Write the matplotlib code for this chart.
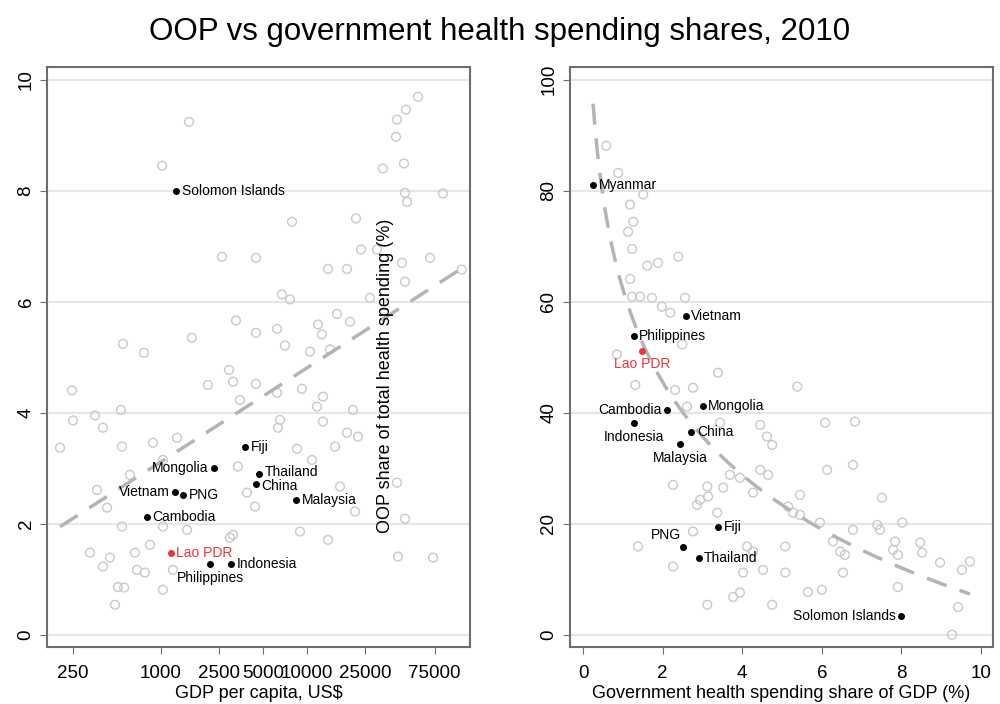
import matplotlib
matplotlib.use("Agg")
import matplotlib.pyplot as plt
import numpy as np

plt.rcParams['font.family'] = ['Liberation Sans', 'DejaVu Sans']

# highlighted countries
countries = ["Solomon Islands", "Fiji", "Mongolia", "Thailand", "China", "Malaysia",
             "Vietnam", "PNG", "Cambodia", "Lao PDR", "Philippines", "Indonesia", "Myanmar"]
hl_gdp = [1270, 3770, 2310, 4700, 4480, 8410, 1250, 1420, 800, 1170, 2170, 3020, np.nan]
hl_gov = [8.0, 3.39, 3.0, 2.9, 2.72, 2.43, 2.58, 2.52, 2.12, 1.48, 1.27, 1.27, 0.25]
hl_oop = [3.4, 19.5, 41.3, 13.9, 36.6, 34.4, 57.5, 15.9, 40.4, 51.2, 53.9, 38.2, 81.1]

# other countries, left panel (GDP per capita vs government share of GDP)
oth_gdp = [1560, 1020, 7910, 2620, 4480, 13960, 18830, 57700, 47750, 41400, 40740, 46240,
           33190, 46990, 48530, 85500, 21680, 23500, 30200, 44800, 69660, 47000, 115000,
           6760, 7660, 27040, 3270, 4480, 6240, 7080, 16070, 19730, 11910, 12680, 550, 766,
           1630, 10500, 14390, 2930, 246, 2100, 3120, 4480, 3480, 6240, 9250, 12890, 11720,
           250, 354, 401, 533, 204, 542, 883, 1290, 6550, 6340, 12890, 20700, 18830, 22390,
           8550, 15590, 10840, 1033, 614, 3370, 365, 3890, 4410, 16860, 428, 542, 1033, 1510,
           3120, 8970, 13960, 21360, 47000, 41400, 842, 327, 448, 665, 401, 686, 778, 1210,
           508, 560, 1033, 485, 42070, 73100, 2970]
oth_gov = [9.24, 8.45, 7.44, 6.81, 6.79, 6.59, 6.59, 9.69, 9.46, 9.28, 8.97, 8.49,
           8.40, 7.96, 7.80, 7.95, 7.50, 6.94, 6.94, 6.70, 6.79, 6.36, 6.58,
           6.13, 6.04, 6.07, 5.66, 5.44, 5.51, 5.21, 5.78, 5.64, 5.59, 5.41, 5.24, 5.08,
           5.35, 5.10, 5.14, 4.77, 4.40, 4.50, 4.56, 4.52, 4.23, 4.36, 4.43, 4.29, 4.11,
           3.86, 3.95, 3.73, 4.05, 3.37, 3.39, 3.46, 3.55, 3.87, 3.73, 3.84, 4.05, 3.64, 3.57,
           3.35, 3.39, 3.15, 3.15, 2.88, 3.03, 2.61, 2.56, 2.31, 2.67, 2.29, 1.95, 1.95, 1.89,
           1.80, 1.86, 1.71, 2.22, 2.09, 2.74, 1.62, 1.48, 1.39, 1.48, 1.23, 1.17, 1.12, 1.17,
           0.86, 0.85, 0.81, 0.54, 1.41, 1.39, 1.75]

# other countries, right panel (government share of GDP vs OOP share)
oth_gov_r = [0.58, 0.88, 1.51, 1.18, 1.26, 1.13, 1.23, 1.61, 1.88, 2.39, 1.18, 1.23, 1.43,
             1.73, 2.56, 1.98, 2.19, 2.49, 0.85, 3.39, 5.38, 2.31, 2.76, 1.31, 2.61, 3.44,
             4.45, 4.62, 4.75, 6.08, 6.83, 6.13, 6.78, 4.45, 4.65, 3.69, 3.94, 2.26, 3.12,
             3.52, 4.27, 2.94, 3.14, 2.86, 5.45, 5.15, 7.51, 3.37, 5.28, 5.45, 5.95, 7.39,
             7.46, 8.02, 6.78, 2.76, 6.28, 7.84, 7.79, 7.91, 8.47, 8.52, 6.46, 6.58, 5.08,
             1.38, 4.12, 4.27, 2.26, 4.02, 4.52, 5.08, 6.53, 8.97, 9.52, 9.72, 7.91, 3.77,
             3.94, 5.65, 6.00, 9.42, 3.12, 4.75, 9.27]
oth_oop = [88.1, 83.2, 79.3, 77.5, 74.4, 72.6, 69.5, 66.5, 67.0, 68.1, 64.1, 60.9, 60.9,
           60.7, 60.7, 59.1, 58.0, 52.3, 50.5, 47.2, 44.7, 44.1, 44.5, 45.0, 41.1, 38.2,
           37.8, 35.7, 34.2, 38.2, 38.4, 29.7, 30.6, 29.7, 28.8, 28.8, 28.3, 27.0, 26.7,
           26.5, 25.6, 24.3, 24.9, 23.4, 25.2, 23.1, 24.7, 22.0, 22.0, 21.6, 20.2, 19.8,
           18.9, 20.2, 18.9, 18.6, 16.8, 16.8, 15.3, 14.4, 16.6, 14.8, 15.0, 14.4, 15.9,
           15.9, 15.9, 15.0, 12.3, 11.2, 11.7, 11.2, 11.2, 13.0, 11.7, 13.2, 8.6, 6.8,
           7.6, 7.7, 8.1, 5.0, 5.4, 5.4, 0.0]

# label placement (offset in points)
pos_left = {"Solomon Islands": "r", "Fiji": "r", "Mongolia": "l", "Thailand": "ru",
            "China": "rd", "Malaysia": "r", "Vietnam": "l", "PNG": "r", "Cambodia": "r",
            "Lao PDR": "r", "Philippines": "b", "Indonesia": "r"}
pos_right = {"Solomon Islands": "l", "Fiji": "r", "Mongolia": "r", "Thailand": "r",
             "China": "r", "Malaysia": "b", "Vietnam": "r", "PNG": "tl", "Cambodia": "l",
             "Lao PDR": "b", "Philippines": "r", "Indonesia": "b", "Myanmar": "r"}
offsets = {"r": ((4, 0), "left", "center"), "l": ((-4, 0), "right", "center"),
           "ru": ((4, 1.5), "left", "center"), "rd": ((4, -1.5), "left", "center"),
           "b": ((0, -5), "center", "top"), "tl": ((-2, 3), "right", "bottom")}

GRAY = "#c9c9c9"
FIT = "#b4b4b4"
RED = "#e8373a"


def style(ax):
    ax.grid(axis="y", color="#e6e6e6", lw=1.5)
    ax.set_axisbelow(True)
    for s in ax.spines.values():
        s.set_color("#6e6e6e")
        s.set_linewidth(1.5)
    ax.tick_params(axis="both", labelsize=13.5, length=5, color="#6e6e6e")
    ax.tick_params(axis="x", pad=8)
    ax.tick_params(axis="y", pad=4)
    for t in ax.get_yticklabels():
        t.set_rotation(90)
        t.set_va("center")


def label(ax, x, y, name, pos):
    (dx, dy), ha, va = offsets[pos]
    col = RED if name == "Lao PDR" else "black"
    ax.annotate(name, (x, y), xytext=(dx, dy), textcoords="offset points",
                ha=ha, va=va, fontsize=10, color=col)


fig = plt.figure(figsize=(10, 7.04), dpi=100)
ax1 = fig.add_axes([0.047, 0.081, 0.423, 0.824])
ax2 = fig.add_axes([0.570, 0.081, 0.423, 0.824])

# ---- left panel
gdp_all = np.array(oth_gdp + [g for g in hl_gdp if not np.isnan(g)])
gov_all = np.array(oth_gov + [v for g, v in zip(hl_gdp, hl_gov) if not np.isnan(g)])
b1, a1 = np.polyfit(np.log10(gdp_all), gov_all, 1)
xs = np.logspace(np.log10(gdp_all.min()), np.log10(gdp_all.max()), 50)
ax1.scatter(oth_gdp, oth_gov, s=40, facecolors="none", edgecolors=GRAY, lw=1, zorder=2)
ax1.plot(xs, a1 + b1 * np.log10(xs), ls=(0, (6, 4)), color=FIT, lw=2.5, zorder=3)
for n, g, v in zip(countries, hl_gdp, hl_gov):
    if np.isnan(g):
        continue
    ax1.plot(g, v, "o", ms=4, color=RED if n == "Lao PDR" else "black", zorder=4)
    label(ax1, g, v, n, pos_left[n])
ax1.set_xscale("log")
ax1.set_xlim(166, 131000)
ax1.set_ylim(-0.22, 10.23)
ax1.set_xticks([250, 1000, 2500, 5000, 10000, 25000, 75000])
ax1.set_xticklabels(["250", "1000", "2500", "5000", "10000", "25000", "75000"])
ax1.xaxis.set_minor_locator(matplotlib.ticker.NullLocator())
ax1.set_yticks(range(0, 11, 2))
ax1.set_xlabel("GDP per capita, US$", fontsize=13, labelpad=2)
style(ax1)

# ---- right panel
gov_r = np.array(oth_gov_r + hl_gov)
oop_r = np.array(oth_oop + hl_oop)
b2, a2 = np.polyfit(np.log(gov_r), oop_r, 1)
xr = np.linspace(gov_r.min(), gov_r.max(), 200)
ax2.scatter(oth_gov_r, oth_oop, s=40, facecolors="none", edgecolors=GRAY, lw=1, zorder=2)
ax2.plot(xr, a2 + b2 * np.log(xr), ls=(0, (6, 4)), color=FIT, lw=2.5, zorder=3)
for n, v, o in zip(countries, hl_gov, hl_oop):
    ax2.plot(v, o, "o", ms=4, color=RED if n == "Lao PDR" else "black", zorder=4)
    label(ax2, v, o, n, pos_right[n])
ax2.set_xlim(-0.33, 10.3)
ax2.set_ylim(-2.2, 102.3)
ax2.set_xticks(range(0, 11, 2))
ax2.set_yticks(range(0, 101, 20))
ax2.set_xlabel("Government health spending share of GDP (%)", fontsize=13, labelpad=2)
style(ax2)

fig.text(0.385, 0.466, "OOP share of total health spending (%)", rotation=90,
         ha="center", va="center", fontsize=13)
fig.text(0.5, 0.955, "OOP vs government health spending shares, 2010",
         ha="center", va="center", fontsize=22.5)

fig.savefig("out.png", dpi=100, facecolor="white")
